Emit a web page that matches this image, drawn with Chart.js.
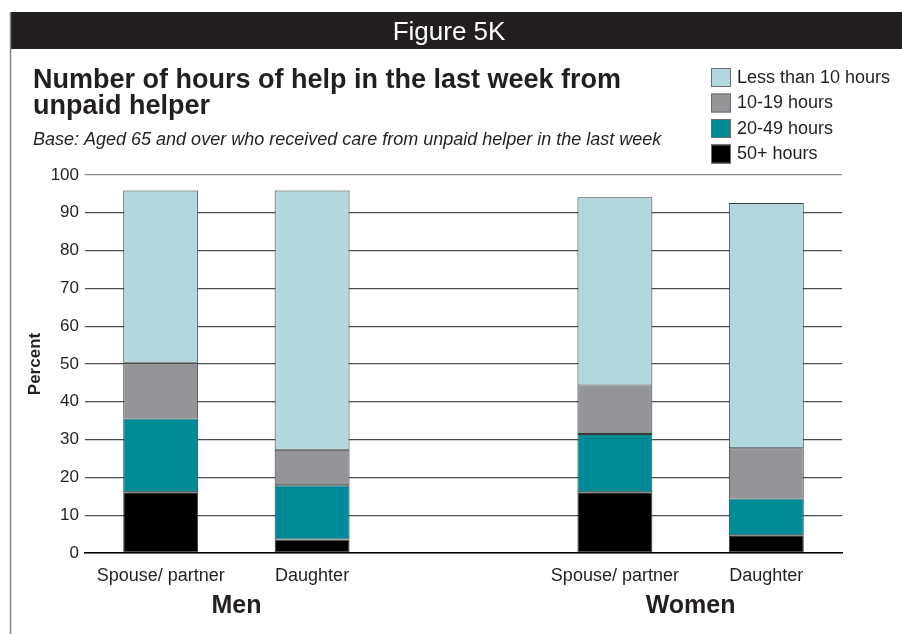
<!DOCTYPE html>
<html>
<head>
<meta charset="utf-8">
<title>Figure 5K</title>
<script src="https://cdn.jsdelivr.net/npm/chart.js@4.4.1/dist/chart.umd.min.js"></script>
<style>
    html, body { margin: 0; padding: 0; background: #ffffff; }
    #myChart { display: block; }
</style>
</head>
<body>
<canvas id="myChart" width="902" height="634"></canvas>
<script>
// data (percent)
const categories = ["Spouse/ partner", "Daughter", "", "Spouse/ partner", "Daughter"];
const groups = ["Men", "Women"];
const groupCols = [[0, 1], [3, 4]]; // which categories sit under each group label
const over50 = [16.1, 3.6, null, 16.1, 4.7];
const h20to49 = [19.5, 14.3, null, 15.4, 9.7];
const h10to19 = [14.7, 9.4, null, 12.8, 13.3];
const under10 = [45.6, 68.6, null, 49.8, 64.9];
const yTicks = [0, 10, 20, 30, 40, 50, 60, 70, 80, 90, 100];

const figureName = "Figure 5K";
const titleLines = ["Number of hours of help in the last week from", "unpaid helper"];
const baseText = "Base: Aged 65 and over who received care from unpaid helper in the last week";

function init() {
    const canvas = document.getElementById("myChart");
    const ink = "#231f20";

    // header bar, title, subtitle, legend and group labels
    const decorations = {
        id: "decorations",
        beforeDraw(chart) {
            const ctx = chart.ctx;
            ctx.save();
            ctx.fillStyle = "#ffffff";
            ctx.fillRect(0, 0, chart.width, chart.height);
            ctx.fillStyle = ink;
            ctx.fillRect(10, 12, chart.width - 10, 37);
            ctx.strokeStyle = "#808080";
            ctx.lineWidth = 1.5;
            ctx.beginPath();
            ctx.moveTo(10.5, 12);
            ctx.lineTo(10.5, chart.height);
            ctx.stroke();
            ctx.restore();
        },
        afterDraw(chart) {
            const ctx = chart.ctx;
            ctx.save();
            ctx.fillStyle = "#ffffff";
            ctx.font = "26px 'Liberation Sans', Arial, sans-serif";
            ctx.textAlign = "center";
            ctx.textBaseline = "alphabetic";
            ctx.fillText(figureName, 449, 40);

            ctx.fillStyle = ink;
            ctx.textAlign = "left";
            ctx.font = "bold 27px 'Liberation Sans', Arial, sans-serif";
            titleLines.forEach((line, i) => {
                ctx.fillText(line, 33, 88 + i * 26);
            });
            ctx.font = "italic 18px 'Liberation Sans', Arial, sans-serif";
            ctx.fillText(baseText, 33, 145);

            // legend, top entry is the top of the stack
            const sets = chart.data.datasets.slice().reverse();
            ctx.font = "18px 'Liberation Sans', Arial, sans-serif";
            ctx.textBaseline = "middle";
            sets.forEach((ds, i) => {
                const y = 68 + i * 25.5;
                ctx.fillStyle = ds.backgroundColor;
                ctx.fillRect(711, y, 20, 19);
                ctx.strokeStyle = "#6d6e71";
                ctx.lineWidth = 1;
                ctx.strokeRect(711.5, y + 0.5, 19, 18);
                ctx.fillStyle = ink;
                ctx.fillText(ds.label, 737, y + 10);
            });

            // group labels under the category ticks
            const x = chart.scales.x;
            ctx.font = "bold 25px 'Liberation Sans', Arial, sans-serif";
            ctx.textAlign = "center";
            ctx.textBaseline = "alphabetic";
            groups.forEach((name, g) => {
                const cols = groupCols[g];
                const cx = (x.getPixelForValue(cols[0]) + x.getPixelForValue(cols[1])) / 2;
                ctx.fillText(name, cx, 613);
            });
            ctx.restore();
        }
    };

    const barStyle = { borderColor: "#3a3a3a", borderWidth: 1, borderSkipped: false };

    new Chart(canvas, {
        type: "bar",
        data: {
            labels: categories,
            datasets: [
                { label: "50+ hours", data: over50, backgroundColor: "#000000", ...barStyle },
                { label: "20-49 hours", data: h20to49, backgroundColor: "#008b96", ...barStyle },
                { label: "10-19 hours", data: h10to19, backgroundColor: "#939598", ...barStyle },
                { label: "Less than 10 hours", data: under10, backgroundColor: "#b2d8de", ...barStyle }
            ]
        },
        options: {
            responsive: false,
            animation: false,
            devicePixelRatio: 1,
            layout: { padding: { left: 25, right: 60, top: 175, bottom: 0 } },
            datasets: { bar: { barPercentage: 0.495, categoryPercentage: 1 } },
            plugins: {
                legend: { display: false },
                title: { display: false },
                tooltip: { enabled: false }
            },
            scales: {
                x: {
                    stacked: true,
                    grid: { display: false },
                    border: { display: true, color: "#000000", width: 1.5 },
                    ticks: {
                        autoSkip: false,
                        maxRotation: 0,
                        padding: 4,
                        color: ink,
                        font: { family: "'Liberation Sans', Arial, sans-serif", size: 18 }
                    },
                    afterFit(scale) { scale.height = 81; }
                },
                y: {
                    stacked: true,
                    min: 0,
                    max: 100,
                    afterBuildTicks(scale) { scale.ticks = yTicks.map(v => ({ value: v })); },
                    grid: {
                        drawTicks: false,
                        lineWidth: 1.3,
                        color: (c) => (c.tick && c.tick.value === 100 ? "#8a8b8d" : "#4d4d4f")
                    },
                    border: { display: false },
                    ticks: {
                        padding: 6,
                        color: ink,
                        font: { family: "'Liberation Sans', Arial, sans-serif", size: 17 }
                    },
                    title: {
                        display: true,
                        text: "Percent",
                        color: ink,
                        padding: 0,
                        font: { family: "'Liberation Sans', Arial, sans-serif", size: 17, weight: "bold" }
                    },
                    afterFit(scale) { scale.width = 60; }
                }
            }
        },
        plugins: [decorations]
    });
}

document.addEventListener("DOMContentLoaded", init);
</script>
</body>
</html>
